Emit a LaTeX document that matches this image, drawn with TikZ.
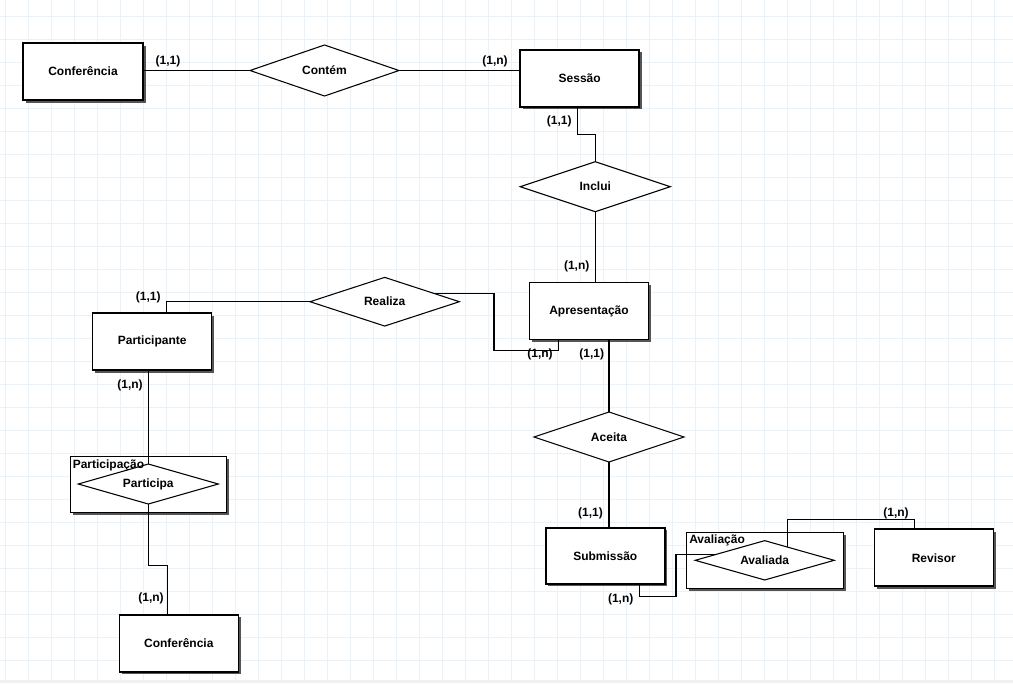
\documentclass[tikz,border=0pt]{standalone}
\usepackage{fontspec}
\setmainfont{Liberation Sans}
\usetikzlibrary{shapes.geometric,shadows,calc}
\definecolor{gridc}{RGB}{234,241,247}
\definecolor{shadc}{RGB}{85,85,85}
\begin{document}
\begin{tikzpicture}[x=0.75pt,y=-0.75pt,
 lbl/.style={font=\bfseries\fontsize{9}{11}\selectfont},
 ent/.style={rectangle,draw,fill=white,line width=1.1pt,inner sep=0pt,outer sep=0pt,lbl,minimum width=89.25pt,minimum height=42.75pt,drop shadow={shadow xshift=1.9pt,shadow yshift=-1.9pt,fill=shadc,opacity=1}},
 grp/.style={ent,minimum width=117pt,minimum height=42pt},
 rel/.style={diamond,aspect=3.5,draw,fill=white,line width=0.8pt,inner sep=0pt,outer sep=0pt,lbl},
 con/.style={line width=0.9pt},
 card/.style={lbl,inner sep=0pt}]
\fill[white] (0,0) rectangle (1013,683);
\useasboundingbox (0,0) rectangle (1013,683);
\foreach \gx in {5.7,28.7,...,1013} \draw[gridc,line width=0.75pt] (\gx,0) -- (\gx,680);
\foreach \gy in {16,39,...,680} \draw[gridc,line width=0.75pt] (0,\gy) -- (1013,\gy);
\fill[gray!12] (0,680) rectangle (1013,683);

% containers
\node[grp,minimum width=117.5pt] (avalbox) at (765,560.3) {};
\node[grp] (partbox) at (148.7,484.3) {};

% entities
\node[ent,minimum width=90pt] (conf1) at (83,71.5) {Conferência};
\node[ent] (sessao) at (579.7,78.3) {Sessão};
\node[ent] (apres) at (589,311) {Apresentação};
\node[ent] (partic) at (152.2,341.7) {Participante};
\node[ent,minimum height=42pt] (subm) at (605.3,555.8) {Submissão};
\node[ent] (revisor) at (933.8,557.7) {Revisor};
\node[ent] (conf2) at (178.8,643.3) {Conferência};

% relationships
\node[rel,minimum width=111.75pt,minimum height=38.25pt] (contem) at (324.5,70.5) {Contém};
\node[rel,minimum width=112.5pt,minimum height=37.5pt] (inclui) at (595.3,186.7) {Inclui};
\node[rel,minimum width=112pt,minimum height=36.5pt] (realiza) at (384.7,301.7) {Realiza};
\node[rel,minimum width=112.5pt,minimum height=37.5pt] (aceita) at (609,437) {Aceita};
\node[rel,minimum width=104.25pt,minimum height=29.5pt] (avaliada) at (764.7,560.3) {Avaliada};
\node[rel,minimum width=105pt,minimum height=30pt] (participa) at (148.3,484) {Participa};

\node[card,anchor=west] (tpart) at (72.5,465) {Participação};
\node[card,anchor=west] (taval) at (689,540) {Avaliação};

% connectors
\draw[con] (contem.west -| conf1.east) -- (contem.west);
\draw[con] (contem.east) -- (contem.east -| sessao.west);
\draw[con] ($(sessao.south)+(-2.4,0)$) |- ($(inclui.north)+(0,-27.4)$) -- (inclui.north);
\draw[con] (inclui.south) -- (inclui.south |- apres.north);
\draw[con] ($(partic.north)+(14.5,0)$) |- (realiza.west);
\draw[con] ($(realiza.north)!0.675!(realiza.east)$) -| ($(apres.south)+(-95,10.7)$) -| ($(apres.south)+(-30.7,0)$);
\draw[con] (aceita.north |- apres.south) -- (aceita.north);
\draw[con] (aceita.south) -- (aceita.south |- subm.north);
\draw[con] ($(subm.south)+(34,0)$) -- ++(0,12.7) -| ($(avaliada.west)!0.3!(avaliada.north)+(-40,0)$) -- ($(avaliada.west)!0.3!(avaliada.north)$);
\draw[con] ($(avaliada.north)!0.33!(avaliada.east)$) -- ++(0,-28) -| ($(revisor.north)+(-19.5,0)$);
\draw[con] (participa.north |- partic.south) -- (participa.north);
\draw[con] (participa.south) |- ($(conf2.north)+(-11.5,-49)$) -- ($(conf2.north)+(-11.5,0)$);

% cardinalities
\node[card] (c1) at (168,61) {(1,1)};
\node[card] (c2) at (495,61) {(1,n)};
\node[card] (c3) at (559.3,121.7) {(1,1)};
\node[card] (c4) at (576.7,266) {(1,n)};
\node[card] (c5) at (148.3,297.3) {(1,1)};
\node[card] (c6) at (540,354.3) {(1,n)};
\node[card] (c7) at (591.7,354.3) {(1,1)};
\node[card] (c8) at (590.5,513) {(1,1)};
\node[card] (c9) at (620.7,599.3) {(1,n)};
\node[card] (c10) at (896,513.3) {(1,n)};
\node[card] (c11) at (130,385) {(1,n)};
\node[card] (c12) at (151,598) {(1,n)};
\end{tikzpicture}
\end{document}
